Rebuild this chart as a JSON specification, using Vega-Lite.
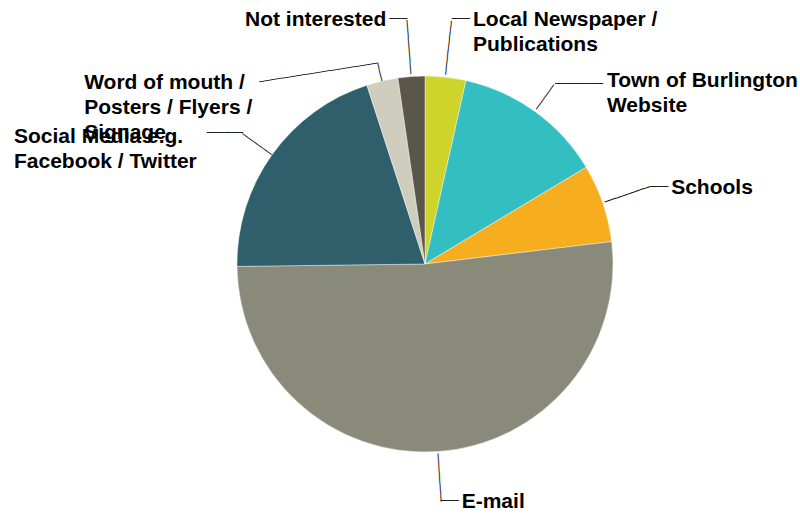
{
  "$schema": "https://vega.github.io/schema/vega-lite/v6.json",
  "width": 750,
  "height": 500,
  "autosize": {"type": "none"},
  "padding": {"left": 50, "top": 14, "right": 0, "bottom": 0},
  "background": "white",
  "view": {"stroke": null},
  "data": {
    "values": [
      {"idx": 1, "source": "Local Newspaper / Publications", "label": "Local Newspaper /\nPublications", "pct": 3.5},
      {"idx": 2, "source": "Town of Burlington Website", "label": "Town of Burlington\nWebsite", "pct": 12.9},
      {"idx": 3, "source": "Schools", "label": "Schools", "pct": 6.7},
      {"idx": 4, "source": "E-mail", "label": "E-mail", "pct": 51.7},
      {"idx": 5, "source": "Social Media e.g. Facebook / Twitter", "label": "Social Media e.g.\nFacebook / Twitter", "pct": 20.2},
      {"idx": 6, "source": "Word of mouth / Posters / Flyers / Signage", "label": "Word of mouth /\nPosters / Flyers /\nSignage", "pct": 2.7},
      {"idx": 7, "source": "Not interested", "label": "Not interested", "pct": 2.3}
    ]
  },
  "encoding": {
    "theta": {"field": "pct", "type": "quantitative", "stack": true},
    "order": {"field": "idx", "type": "quantitative", "sort": "ascending"},
    "detail": {"field": "source", "type": "nominal"}
  },
  "layer": [
    {
      "mark": {"type": "arc", "radius": 188, "stroke": "white", "strokeWidth": 0.6, "strokeOpacity": 0.7},
      "encoding": {
        "color": {
          "field": "source",
          "type": "nominal",
          "legend": null,
          "scale": {
            "domain": ["Local Newspaper / Publications", "Town of Burlington Website", "Schools", "E-mail", "Social Media e.g. Facebook / Twitter", "Word of mouth / Posters / Flyers / Signage", "Not interested"],
            "range": ["#cfd42b", "#33bec1", "#f6ae1f", "#898a79", "#2e5f6b", "#cfcdbd", "#5a5749"]
          }
        }
      }
    },
    {
      "mark": {
        "type": "text",
        "radius": {"expr": "datum.idx == 6 ? 197 : (datum.idx == 5 ? 206.5 : (datum.idx == 2 ? 205.5 : (datum.idx == 1 || datum.idx == 7 ? 217.5 : 214)))"},
        "text": {"expr": "datum.idx == 6 ? '───' : (datum.idx == 5 ? '──────' : (datum.idx == 2 ? '─────' : (datum.idx == 1 || datum.idx == 7 ? '─────────' : '────────')))"},
        "font": "DejaVu Sans Mono",
        "fontSize": 10,
        "color": "black",
        "align": "center",
        "baseline": "middle",
        "angle": {"expr": "(datum.pct_start + datum.pct_end) * 1.8 - 90"}
      }
    },
    {
      "mark": {
        "type": "text",
        "radius": {"expr": "datum.idx == 6 ? 206 : (datum.idx == 5 ? 224 : (datum.idx == 2 ? 222 : (datum.idx == 1 || datum.idx == 7 ? 246 : 238)))"},
        "text": {"expr": "datum.idx == 6 ? '────────────────────' : (datum.idx == 5 ? '──────' : (datum.idx == 2 ? '────────' : '───'))"},
        "font": "DejaVu Sans Mono",
        "fontSize": 10,
        "color": "black",
        "baseline": "middle",
        "angle": {"expr": "datum.idx == 6 ? -9 : 0"},
        "align": {"expr": "datum.pct_start + datum.pct_end > 100 ? 'right' : 'left'"}
      }
    },
    {
      "mark": {
        "type": "text",
        "radius": {"expr": "datum.idx == 6 ? 206 : (datum.idx == 5 ? 224 : (datum.idx == 2 ? 222 : (datum.idx == 1 || datum.idx == 7 ? 246 : 238)))"},
        "font": "Liberation Sans",
        "fontWeight": "bold",
        "fontSize": 21,
        "lineBreak": "\n",
        "lineHeight": 25,
        "color": "black",
        "baseline": "top",
        "align": {"expr": "datum.idx == 6 || datum.idx == 5 || datum.pct_start + datum.pct_end < 100 ? 'left' : 'right'"},
        "dx": {"expr": "datum.idx == 6 ? -294 : (datum.idx == 5 ? -229 : (datum.idx == 2 ? 52 : (datum.pct_start + datum.pct_end > 100 ? -21 : 21)))"},
        "dy": {"expr": "datum.idx == 6 ? 9 : (datum.idx == 5 ? -7 : (datum.idx == 2 ? -14 : -10))"}
      },
      "encoding": {"text": {"field": "label", "type": "nominal"}}
    }
  ]
}
